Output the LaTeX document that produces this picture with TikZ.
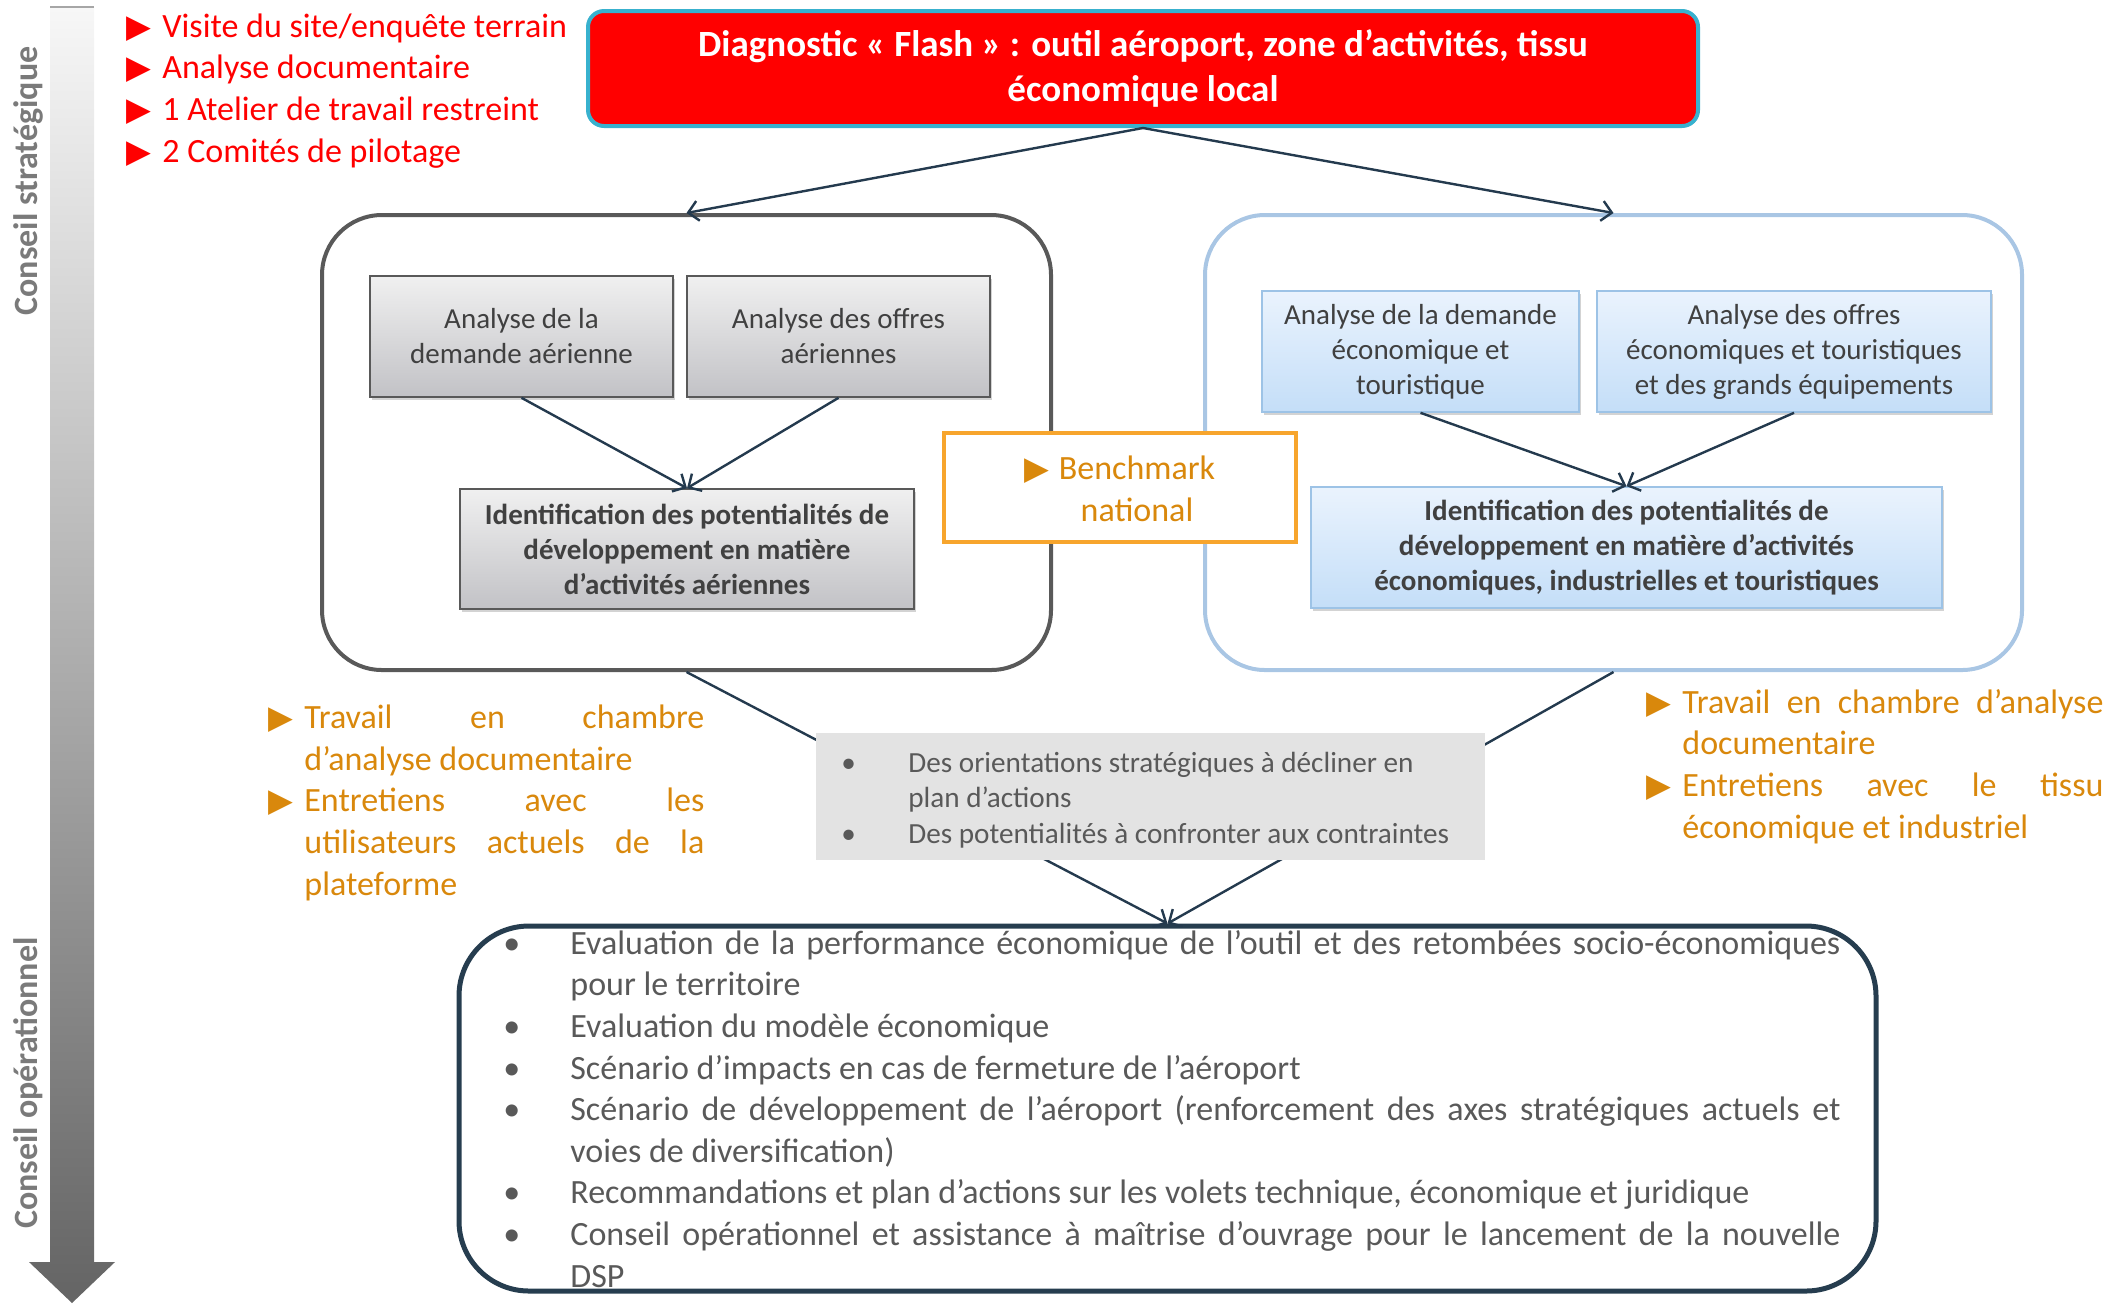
\documentclass[tikz,border=0pt]{standalone}
\usepackage{fontspec}
\usepackage{graphicx}
\setmainfont{Carlito}
\newfontfamily\symfont{DejaVu Sans}
\usetikzlibrary{arrows.meta,shadows}

\definecolor{flashred}{HTML}{FF0000}
\definecolor{flashcyan}{HTML}{38B1CE}
\definecolor{linkblue}{HTML}{243A4E}
\definecolor{framegray}{HTML}{595959}
\definecolor{boxtext}{HTML}{404040}
\definecolor{listtext}{HTML}{595959}
\definecolor{softblue}{HTML}{A9C6E4}
\definecolor{blueedge}{HTML}{9DC3E6}
\definecolor{bluetop}{HTML}{EAF3FD}
\definecolor{bluebottom}{HTML}{C4DEF8}
\definecolor{greytop}{HTML}{F0F0F0}
\definecolor{greybottom}{HTML}{C2C2C6}
\definecolor{benchorange}{HTML}{F7A52D}
\definecolor{noteorange}{HTML}{D9880C}
\definecolor{synthgray}{HTML}{E3E3E3}
\definecolor{navy}{HTML}{263D4F}
\definecolor{sidegray}{HTML}{7A7A7A}
\definecolor{barlight}{HTML}{F7F7F7}
\definecolor{bardark}{HTML}{646464}

\newcommand{\tri}{{\symfont\scalebox{0.95}{▶}}}
\newcommand{\itm}{\makebox[18pt][l]{\tri}}
\newcommand{\dotm}{\makebox[33.5pt][l]{•}}
\newcommand{\jst}[2]{\makebox[#1][s]{#2}}

\tikzset{
  bigframe/.style={rounded corners=30pt, line width=2pt,
    minimum height=227.5pt},
  greybox/.style={draw=framegray, line width=0.8pt, top color=greytop,
    bottom color=greybottom, text=boxtext, align=center,
    drop shadow={shadow xshift=1.2pt, shadow yshift=-1.5pt, opacity=0.35},
    font=\fontsize{14.5}{17.5}\selectfont},
  bluebox/.style={draw=blueedge, line width=0.8pt,
    top color=bluetop, bottom color=bluebottom,
    text=boxtext, align=center,
    drop shadow={shadow xshift=1.2pt, shadow yshift=-1.5pt, opacity=0.35},
    font=\fontsize{14.5}{17.5}\selectfont},
  link/.style={draw=linkblue, line width=1.2pt,
    -{Straight Barb[length=5pt,width=10pt]}},
  note/.style={anchor=base west, align=left,
    font=\fontsize{17}{20.8}\selectfont}
}

\begin{document}
\begin{tikzpicture}[x=0.5pt, y=-0.5pt, every node/.append style={inner sep=0pt}]
  \useasboundingbox (0,0) rectangle (2118,1303);

  % side arrow
  \shade[top color=barlight, bottom color=bardark]
    (50,7) -- (94,7) -- (94,1262) -- (115,1262) -- (72,1303)
    -- (29,1262) -- (50,1262) -- cycle;
  \draw[gray!70, line width=1pt] (50,7) -- (94,7);
  \node[rotate=90, text=sidegray, font=\bfseries\fontsize{17}{20}\selectfont]
    (strat) at (28,181) {Conseil stratégique};
  \node[rotate=90, text=sidegray, font=\bfseries\fontsize{17}{20}\selectfont]
    (oper) at (28,1083) {Conseil opérationnel};

  % base = last line
  \node[note, text=flashred] (missions) at (126,162)
  {
    \itm Visite du site/enquête terrain\\
    \itm Analyse documentaire\\
    \itm 1 Atelier de travail restreint\\
    \itm 2 Comités de pilotage
  };

  \node[draw=flashcyan, line width=2pt, fill=flashred, rounded corners=8pt,
    minimum width=555pt, minimum height=57.5pt, text=white, align=center,
    font=\bfseries\fontsize{18.5}{22.5}\selectfont] (flash) at (1143,68.5)
  {Diagnostic « Flash » : outil aéroport, zone d’activités, tissu\\
   économique local};

  \node[bigframe, draw=framegray, minimum width=364.5pt] (aerien) at (686.5,442.5) {};
  \node[bigframe, draw=softblue, minimum width=408.5pt] (eco) at (1613.5,442.5) {};

  \node[greybox, minimum width=151.5pt, minimum height=60.5pt] (demA) at (521.5,336.5)
    {Analyse de la\\demande aérienne};
  \node[greybox, minimum width=151.5pt, minimum height=60.5pt] (offA) at (838.5,336.5)
    {Analyse des offres\\aériennes};
  \node[greybox, minimum width=227pt, minimum height=60pt, font=\bfseries\fontsize{14.5}{17.5}\selectfont]
    (idA) at (687,549)
    {Identification des potentialités de\\développement en matière\\d’activités aériennes};

  \node[bluebox, minimum width=158.5pt, minimum height=60.5pt] (demE) at (1420.5,351.5)
    {Analyse de la demande\\économique et\\touristique};
  \node[bluebox, minimum width=197pt, minimum height=60.5pt] (offE) at (1794,351.5)
    {Analyse des offres\\économiques et touristiques\\et des grands équipements};
  \node[bluebox, minimum width=315.5pt, minimum height=60.5pt, font=\bfseries\fontsize{14.5}{17.5}\selectfont]
    (idE) at (1626.5,547.5)
    {Identification des potentialités de\\développement en matière d’activités\\économiques, industrielles et touristiques};

  \node[draw=benchorange, line width=2pt, fill=white, minimum width=176pt,
    minimum height=54.5pt] (bench) at (1120,487.5) {};
  \node[text=noteorange, align=center, font=\fontsize{17}{21}\selectfont]
    (benchtext) at (1137,489) {\llap{\tri\hspace{5pt}}Benchmark\\national};

  \node[draw=navy, line width=2.5pt, rounded corners=35pt, minimum width=708.5pt,
    minimum height=182.5pt] (actions) at (1167.5,1108.5) {};

  \draw[link] (flash.south) -- (aerien.north);
  \draw[link] (flash.south) -- (eco.north);
  \draw[link] (demA.south) -- (idA.north);
  \draw[link] (offA.south) -- (idA.north);
  \draw[link] (demE.south) -- (idE.north);
  \draw[link] (offE.south) -- (idE.north);
  \draw[link] (aerien.south) -- (actions.north);
  \draw[link] (eco.south) -- (actions.north);

  \node[fill=synthgray, minimum width=334.5pt, minimum height=63.5pt]
    (synthese) at (1150.5,796.5) {};
  \node[anchor=west, text=listtext, align=left, font=\fontsize{14.6}{17.6}\selectfont]
    (synthtext) at (841,800)
  {
    \dotm Des orientations stratégiques à décliner en\\
    \hspace*{33.5pt}plan d’actions\\
    \dotm Des potentialités à confronter aux contraintes
  };

  \node[note, text=noteorange] (travailA) at (268,895)
  {
    \itm\jst{200pt}{Travail en chambre}\\
    \hspace*{18pt}d’analyse documentaire\\
    \itm\jst{200pt}{Entretiens avec les}\\
    \hspace*{18pt}\jst{200pt}{utilisateurs actuels de la}\\
    \hspace*{18pt}plateforme
  };

  \node[note, text=noteorange] (travailE) at (1646,838)
  {
    \itm\jst{210.5pt}{Travail en chambre d’analyse}\\
    \hspace*{18pt}documentaire\\
    \itm\jst{210.5pt}{Entretiens avec le tissu}\\
    \hspace*{18pt}économique et industriel
  };

  \node[note, text=listtext] (actionlist) at (503,1287)
  {
    \dotm\jst{635pt}{Evaluation de la performance économique de l’outil et des retombées socio-économiques}\\
    \hspace*{33.5pt}pour le territoire\\
    \dotm Evaluation du modèle économique\\
    \dotm Scénario d’impacts en cas de fermeture de l’aéroport\\
    \dotm\jst{635pt}{Scénario de développement de l’aéroport (renforcement des axes stratégiques actuels et}\\
    \hspace*{33.5pt}voies de diversification)\\
    \dotm Recommandations et plan d’actions sur les volets technique, économique et juridique\\
    \dotm\jst{635pt}{Conseil opérationnel et assistance à maîtrise d’ouvrage pour le lancement de la nouvelle}\\
    \hspace*{33.5pt}DSP
  };

\end{tikzpicture}
\end{document}
